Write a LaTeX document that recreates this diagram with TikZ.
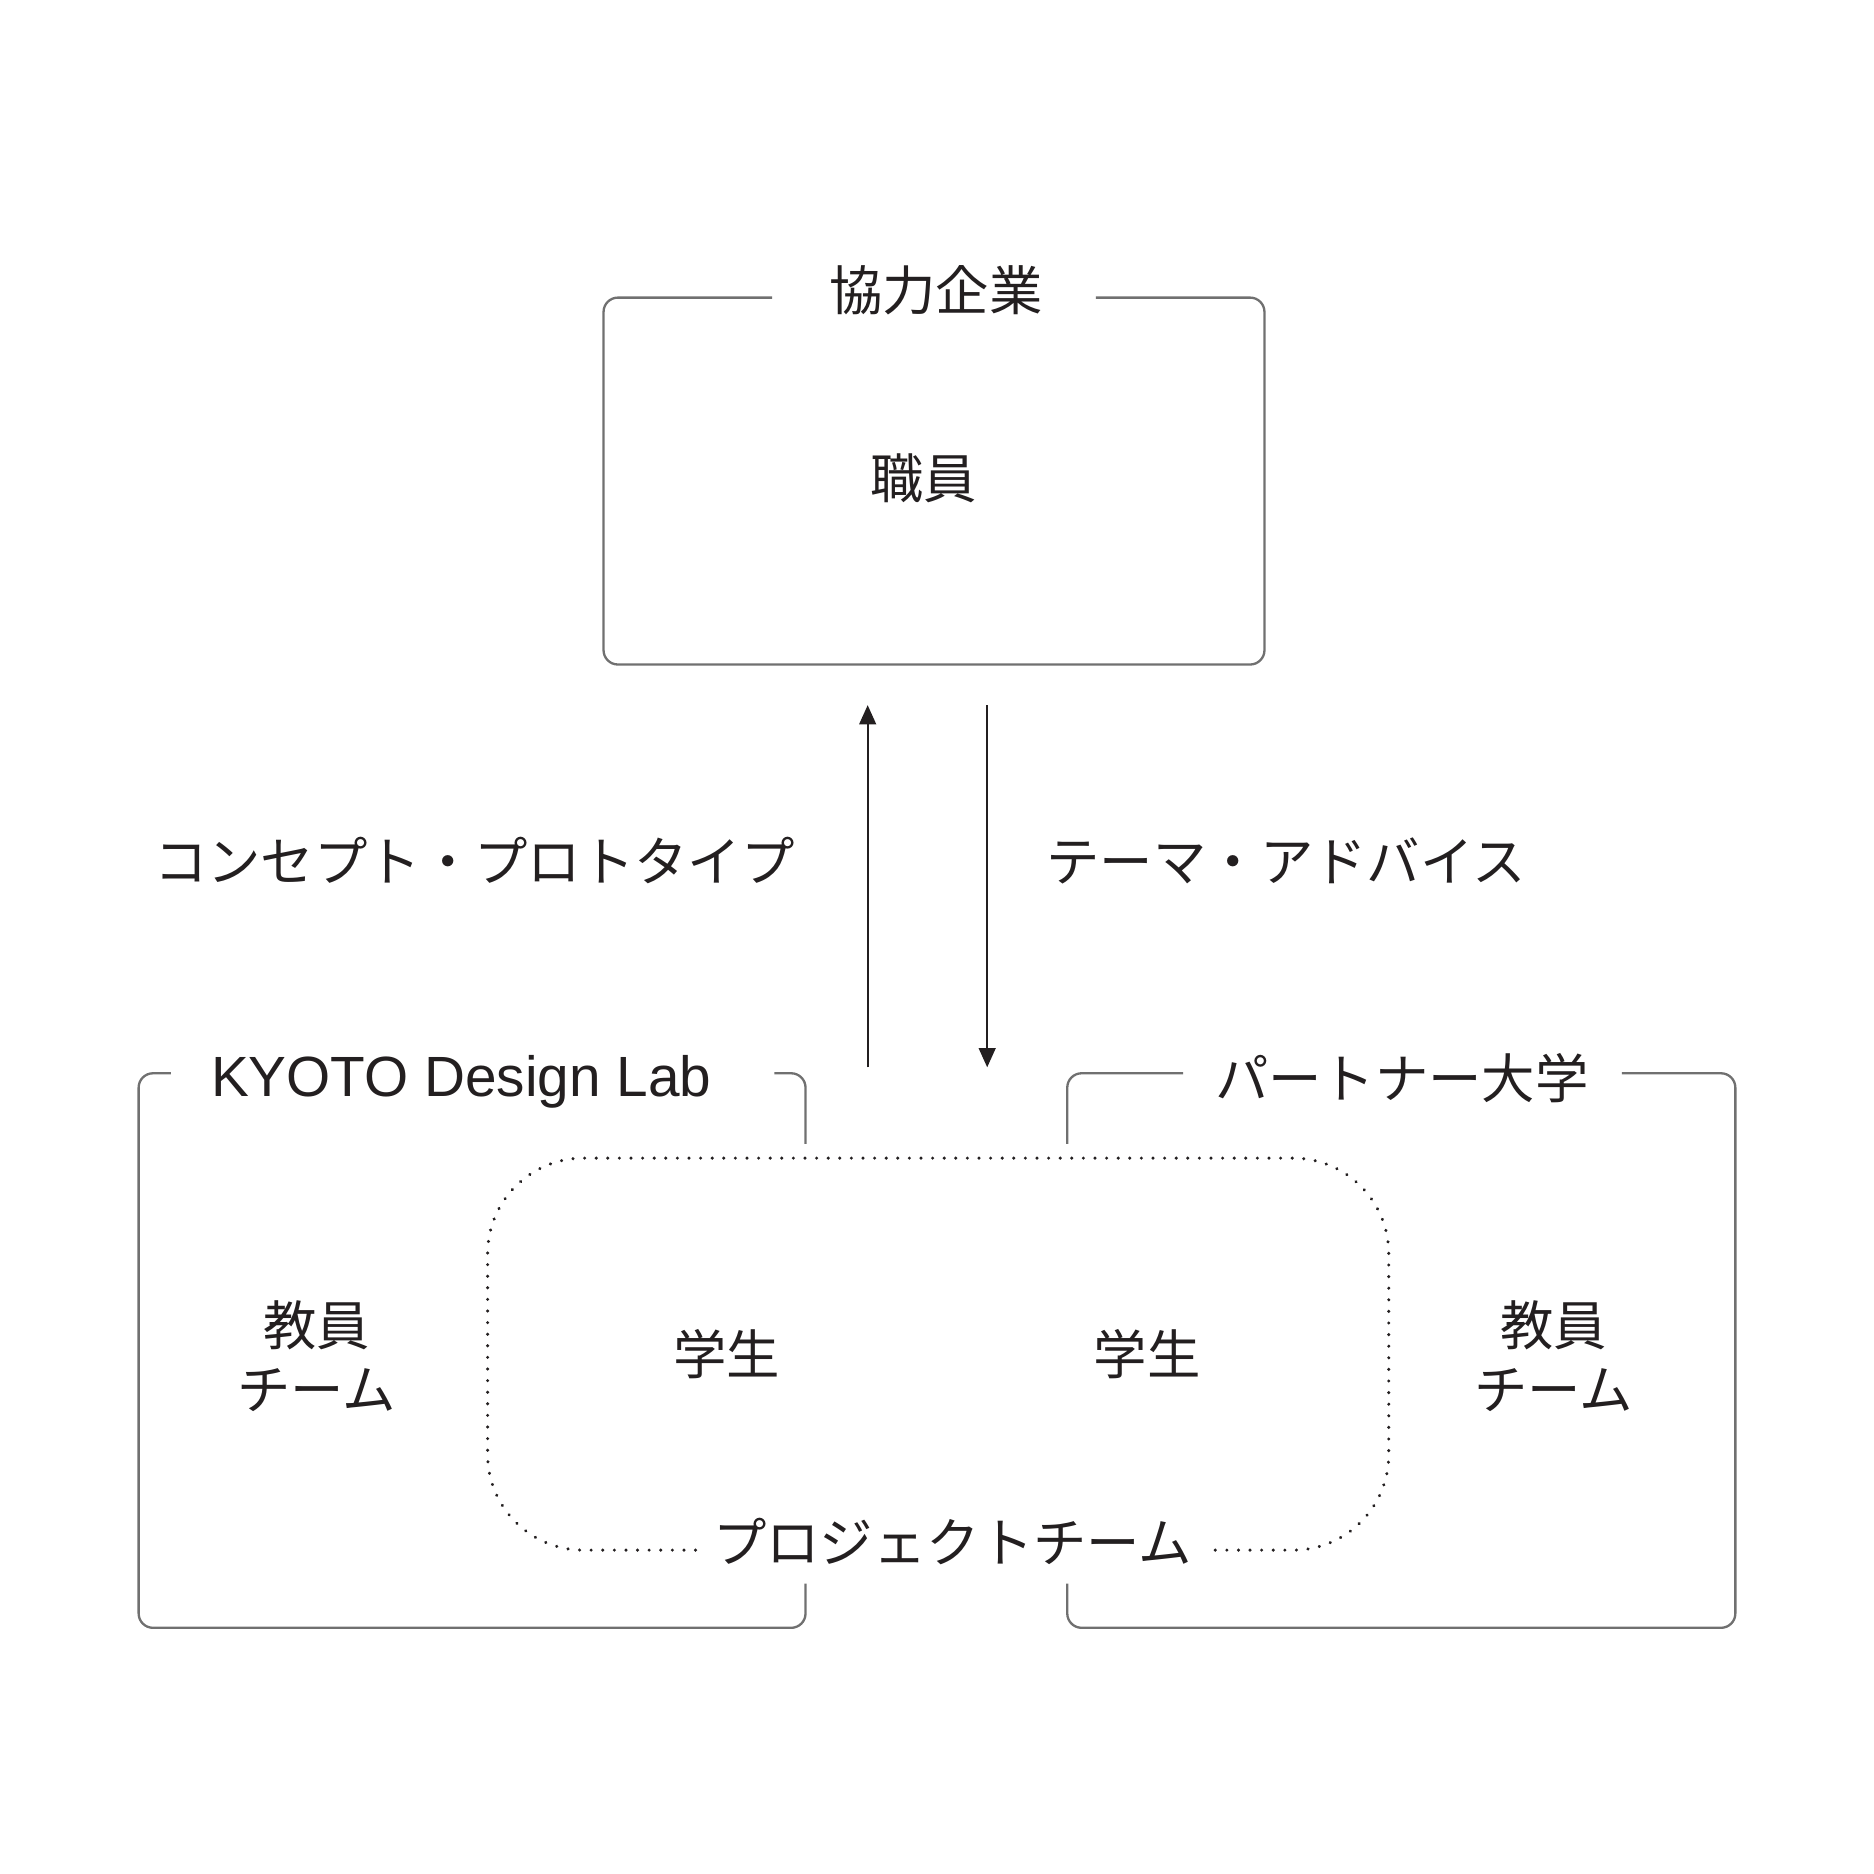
\documentclass[tikz,border=0pt]{standalone}
\usepackage{fontspec}
\setmainfont{Liberation Sans}
\newfontfamily\jp{Noto Sans CJK JP}
\usetikzlibrary{arrows.meta}
\definecolor{ink}{HTML}{231F20}
\definecolor{frame}{HTML}{707070}
\begin{document}
\begin{tikzpicture}[x=0.01cm,y=-0.01cm,
  frameline/.style={draw=frame,line width=0.55pt,rounded corners=0.12cm},
  dotline/.style={draw=ink,line width=0.8pt,dash pattern=on 0.01pt off 2.75pt,line cap=round,rounded corners=0.8cm},
  jplabel/.style={font=\jp\fontsize{12.7}{15.3}\selectfont,text=ink,inner sep=0pt,align=center},
  lalabel/.style={font=\fontsize{13.5}{16}\selectfont,text=ink,inner sep=0pt},
  arr/.style={draw=ink,line width=0.45pt,-{Triangle[width=0.14cm,length=0.16cm]}}]
\useasboundingbox (0,0) rectangle (1568,1568);
% ---------- top box: 協力企業
\node[jplabel] (kigyo) at (783,243) {協力企業};
\node[jplabel] (shokuin) at (773,400) {職員};
\coordinate (tA) at (646,249);
\coordinate (tB) at (917,249);
\draw[frameline] (tA) -- (505,249) -- (505,556) -- (1058,556) -- (1058,249) -- (tB);
% ---------- arrows
\coordinate (upS) at (726,893);
\coordinate (upE) at (726,590);
\coordinate (dnS) at (826,590);
\coordinate (dnE) at (826,893);
\draw[arr] (upS) -- (upE);
\draw[arr] (dnS) -- (dnE);
\node[jplabel] (concept) at (397,720) {コンセプト・プロトタイプ};
\node[jplabel] (theme) at (1076,720) {テーマ・アドバイス};
% ---------- left box: KYOTO Design Lab
\node[lalabel] (kdl) at (386,905) {KYOTO Design Lab};
\coordinate (lA) at (143,898);
\coordinate (lB) at (648,898);
\coordinate (lC) at (674,957);
\coordinate (lD) at (674,1325);
\draw[frameline] (lA) -- (116,898) -- (116,1362) -- (674,1362) -- (lD);
\draw[frameline] (lB) -- (674,898) -- (lC);
\node[jplabel] (kyoinL) at (265,1135) {教員\\チーム};
% ---------- right box: パートナー大学
\node[jplabel] (partner) at (1173,902) {パートナー大学};
\coordinate (rA) at (990,898);
\coordinate (rB) at (1357,898);
\coordinate (rC) at (893,957);
\coordinate (rD) at (893,1325);
\draw[frameline] (rA) -- (893,898) -- (rC);
\draw[frameline] (rB) -- (1452,898) -- (1452,1362) -- (893,1362) -- (rD);
\node[jplabel] (kyoinR) at (1300,1135) {教員\\チーム};
% ---------- project team (dotted)
\node[jplabel] (pteam) at (797,1290) {プロジェクトチーム};
\coordinate (pA) at (582,1297);
\coordinate (pB) at (1010,1297);
\draw[dotline] (pA) -- (408,1297) -- (408,969) -- (1162,969) -- (1162,1297) -- (pB);
\node[jplabel] (gakuseiL) at (608,1133) {学生};
\node[jplabel] (gakuseiR) at (960,1133) {学生};
\end{tikzpicture}
\end{document}
